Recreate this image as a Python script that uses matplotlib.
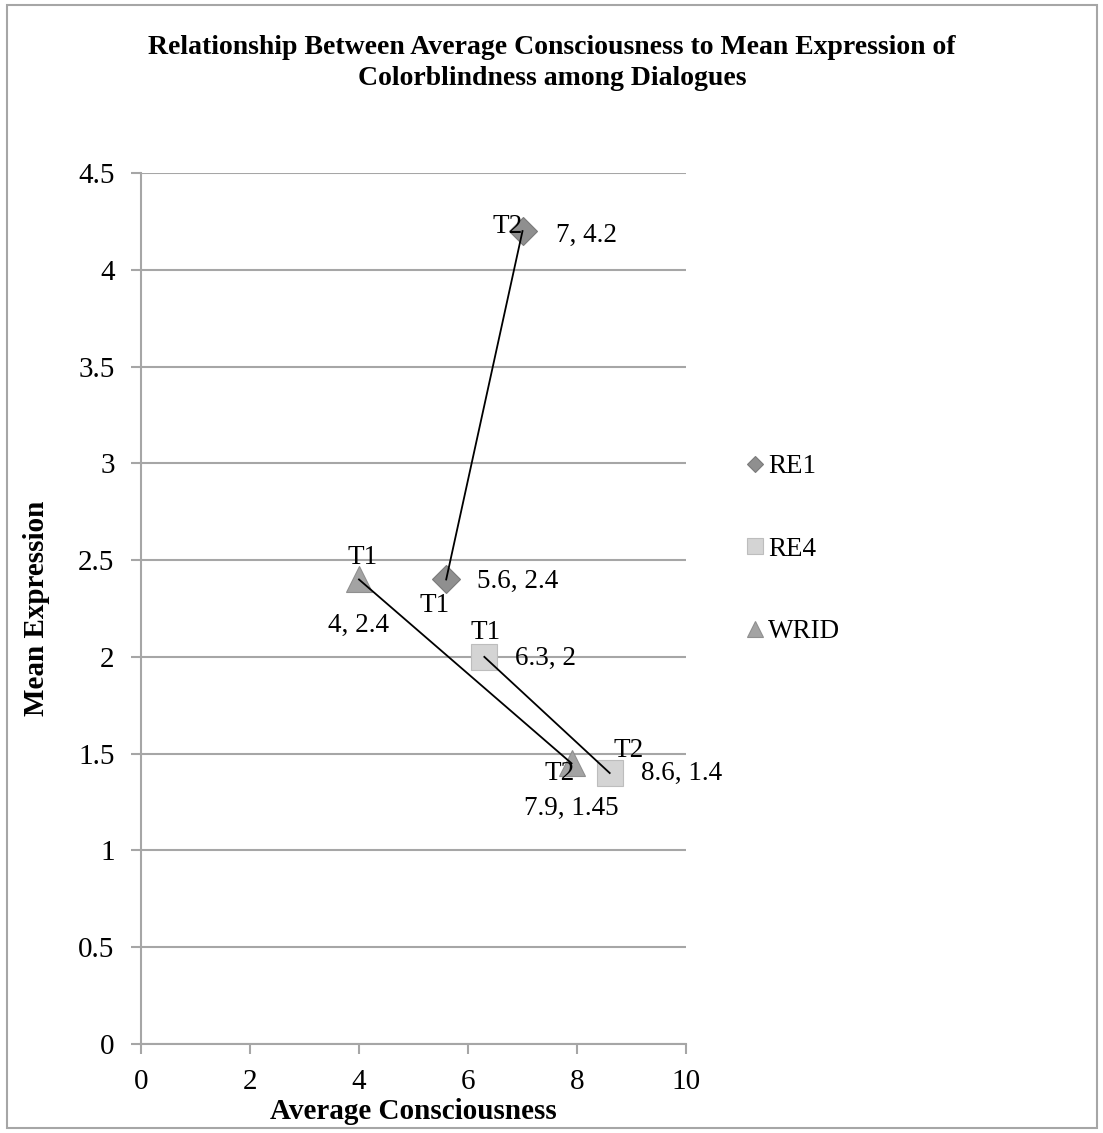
import matplotlib
matplotlib.use("Agg")
import matplotlib.pyplot as plt
from matplotlib.patches import Rectangle

plt.rcParams['font.family'] = ['Liberation Serif', 'DejaVu Serif']

series_names = ["RE1", "RE4", "WRID"]
re1_x = [5.6, 7.0]
re1_y = [2.4, 4.2]
re4_x = [6.3, 8.6]
re4_y = [2.0, 1.4]
wrid_x = [4.0, 7.9]
wrid_y = [2.4, 1.45]
point_tags = ["T1", "T2"]
value_labels_re1 = ["5.6, 2.4", "7, 4.2"]
value_labels_re4 = ["6.3, 2", "8.6, 1.4"]
value_labels_wrid = ["4, 2.4", "7.9, 1.45"]
x_ticks = [0, 2, 4, 6, 8, 10]
y_ticks = [0, 0.5, 1, 1.5, 2, 2.5, 3, 3.5, 4, 4.5]
y_tick_labels = ["0", "0.5", "1", "1.5", "2", "2.5", "3", "3.5", "4", "4.5"]

W, H = 1103, 1133
fig = plt.figure(figsize=(W / 100, H / 100), dpi=100)
fig.patches.append(Rectangle((7 / W, 1 - 1128 / H), 1090 / W, 1123 / H,
                             transform=fig.transFigure, fill=False,
                             edgecolor='#a6a6a6', linewidth=1.5))

ax = fig.add_axes([141 / W, 1 - 1044 / H, (686 - 141) / W, (1044 - 173) / H])
ax.set_xlim(0, 10)
ax.set_ylim(0, 4.5)
ax.set_xticks(x_ticks)
ax.set_xticklabels([str(t) for t in x_ticks])
ax.set_yticks(y_ticks)
ax.set_yticklabels(y_tick_labels)
ax.yaxis.grid(True, color='#a6a6a6', linewidth=1.5)
ax.set_axisbelow(True)
for s in ['top', 'right']:
    ax.spines[s].set_visible(False)
for s in ['left', 'bottom']:
    ax.spines[s].set_color('#a6a6a6')
    ax.spines[s].set_linewidth(1.5)
ax.tick_params(axis='both', direction='out', length=7, width=1.5, color='#a6a6a6',
               labelsize=21)
ax.tick_params(axis='y', pad=12)
ax.tick_params(axis='x', pad=11)

c_re1 = '#8f8f8f'
c_re4 = '#d4d4d4'
c_wrid = '#a3a3a3'

ax.plot(re1_x, re1_y, marker='D', linestyle='none', markersize=14, color=c_re1,
        markeredgecolor='#7a7a7a', markeredgewidth=0.8, label=series_names[0], zorder=3)
ax.plot(re4_x, re4_y, marker='s', linestyle='none', markersize=19, color=c_re4,
        markeredgecolor='#bdbdbd', markeredgewidth=0.8, label=series_names[1], zorder=3)
ax.plot(wrid_x, wrid_y, marker='^', linestyle='none', markersize=19, color=c_wrid,
        markeredgecolor='#8f8f8f', markeredgewidth=0.8, label=series_names[2], zorder=3)

for xs, ys in [(re1_x, re1_y), (re4_x, re4_y), (wrid_x, wrid_y)]:
    ax.plot(xs, ys, color='black', linewidth=1.3, zorder=4)

fs = 19.5
def lab(x, y, txt, dx, dy, ha='center', va='center'):
    ax.annotate(txt, (x, y), xytext=(dx * 0.72, -dy * 0.72), textcoords='offset points',
                ha=ha, va=va, fontsize=fs, zorder=5)

# RE1
lab(re1_x[0], re1_y[0], point_tags[0], -12, 26)
lab(re1_x[0], re1_y[0], value_labels_re1[0], 31, 2, ha='left')
lab(re1_x[1], re1_y[1], point_tags[1], -15, -5)
lab(re1_x[1], re1_y[1], value_labels_re1[1], 33, 4, ha='left')
# RE4
lab(re4_x[0], re4_y[0], point_tags[0], 1, -24)
lab(re4_x[0], re4_y[0], value_labels_re4[0], 31, 2, ha='left')
lab(re4_x[1], re4_y[1], point_tags[1], 19, -23)
lab(re4_x[1], re4_y[1], value_labels_re4[1], 31, 0, ha='left')
# WRID
lab(wrid_x[0], wrid_y[0], point_tags[0], 4, -22)
lab(wrid_x[0], wrid_y[0], value_labels_wrid[0], -1, 46)
lab(wrid_x[1], wrid_y[1], point_tags[1], -12, 10)
lab(wrid_x[1], wrid_y[1], value_labels_wrid[1], 0, 45)

ax.set_xlabel("Average Consciousness", fontsize=21, fontweight='bold', labelpad=2)
ax.set_ylabel("Mean Expression", fontsize=21, fontweight='bold', labelpad=20)

fig.text(552 / W, 1 - 63 / H,
         "Relationship Between Average Consciousness to Mean Expression of\nColorblindness among Dialogues",
         ha='center', va='center', fontsize=20, fontweight='bold', linespacing=1.3)

leg = fig.legend(handles=ax.get_lines()[:3], labels=series_names,
                 loc='upper left', bbox_to_anchor=(722 / W, 1 - 430 / H),
                 frameon=False, fontsize=19.5, markerscale=0.6, handlelength=0.6,
                 handletextpad=0.2, labelspacing=2.12, numpoints=1)

fig.savefig("out.png", dpi=100)
